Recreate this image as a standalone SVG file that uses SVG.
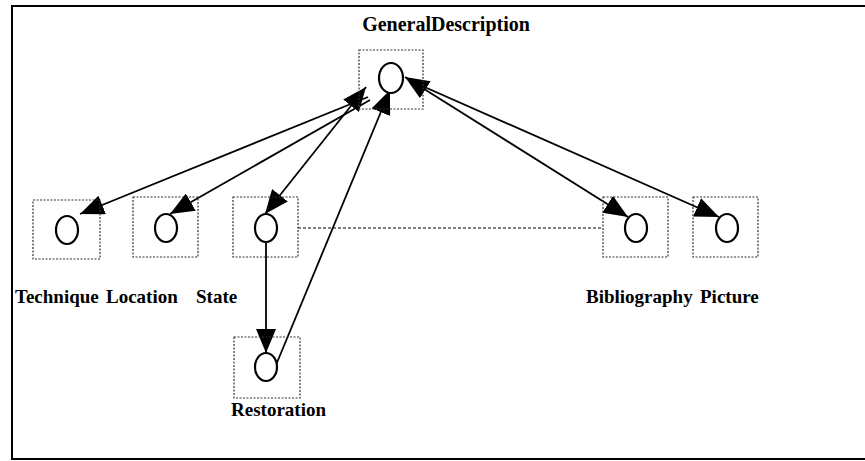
<svg xmlns="http://www.w3.org/2000/svg" width="865" height="461" viewBox="0 0 865 461">
<defs>
<style>
.box{fill:none;stroke:#333;stroke-width:1.2;stroke-dasharray:2 1.5}
.circ{fill:#fff;stroke:#000;stroke-width:2.2}
.lbl{font-family:"Liberation Serif","Times New Roman",serif;font-weight:bold;font-size:19px;fill:#000}
.edge{fill:none;stroke:#000;stroke-width:1.8}
.dash{fill:none;stroke:#000;stroke-width:1.2;stroke-dasharray:3 2}
</style>
<marker id="ah" viewBox="0 0 24 20" refX="24" refY="10" markerWidth="24" markerHeight="20" markerUnits="userSpaceOnUse" orient="auto">
<path d="M0,0 L24,10 L0,20 Z" fill="#000"/>
</marker>
<marker id="ahs" viewBox="0 0 24 20" refX="24" refY="10" markerWidth="24" markerHeight="20" markerUnits="userSpaceOnUse" orient="auto-start-reverse">
<path d="M0,0 L24,10 L0,20 Z" fill="#000"/>
</marker>
</defs>
<rect width="865" height="461" fill="#fff"/>
<path d="M865,6 L12,6 L12,459 L865,459" fill="none" stroke="#000" stroke-width="2"/>

<g id="edges">
<line class="edge" x1="368" y1="97" x2="80" y2="214" marker-end="url(#ah)"/>
<line class="edge" x1="370" y1="100" x2="170" y2="214" marker-end="url(#ah)"/>
<line class="edge" x1="366" y1="87" x2="265" y2="214" marker-start="url(#ahs)" marker-end="url(#ah)"/>
<line class="edge" x1="266" y1="243" x2="266" y2="353" marker-end="url(#ah)"/>
<line class="edge" x1="276" y1="365" x2="390" y2="90" marker-end="url(#ah)"/>
<line class="edge" x1="405" y1="77" x2="628" y2="217" marker-start="url(#ahs)" marker-end="url(#ah)"/>
<line class="edge" x1="420" y1="85" x2="719" y2="217" marker-end="url(#ah)"/>
<line class="dash" x1="298" y1="228" x2="603" y2="228"/>
</g>

<g id="GeneralDescription">
<rect class="box" x="359" y="50" width="64" height="59"/>
<ellipse class="circ" cx="391" cy="78" rx="12" ry="15"/>
<text class="lbl" x="446" y="31" text-anchor="middle" style="font-size:20px">GeneralDescription</text>
</g>
<g id="Technique">
<rect class="box" x="33" y="200" width="67" height="59"/>
<ellipse class="circ" cx="67" cy="230" rx="11" ry="14"/>
<text class="lbl" x="15" y="303">Technique</text>
</g>
<g id="Location">
<rect class="box" x="133" y="197" width="65" height="60"/>
<ellipse class="circ" cx="166" cy="228" rx="11" ry="14"/>
<text class="lbl" x="106" y="303">Location</text>
</g>
<g id="State">
<rect class="box" x="233" y="197" width="65" height="60"/>
<ellipse class="circ" cx="266" cy="228" rx="11" ry="14"/>
<text class="lbl" x="196" y="303">State</text>
</g>
<g id="Restoration">
<rect class="box" x="234" y="337" width="66" height="61"/>
<ellipse class="circ" cx="266" cy="367" rx="11" ry="14"/>
<text class="lbl" x="231" y="416">Restoration</text>
</g>
<g id="Bibliography">
<rect class="box" x="603" y="197" width="65" height="60"/>
<ellipse class="circ" cx="636" cy="228" rx="11" ry="14"/>
<text class="lbl" x="586" y="303">Bibliography</text>
</g>
<g id="Picture">
<rect class="box" x="693" y="197" width="65" height="60"/>
<ellipse class="circ" cx="727" cy="228" rx="11" ry="14"/>
<text class="lbl" x="700" y="303">Picture</text>
</g>
</svg>
